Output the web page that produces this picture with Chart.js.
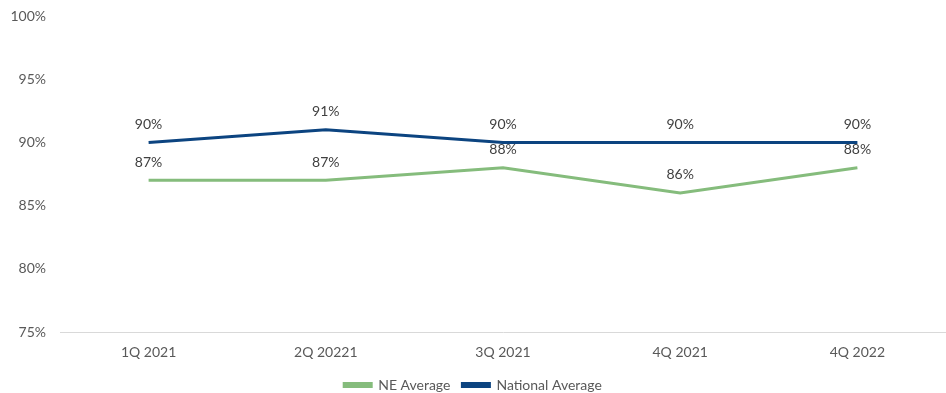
<!DOCTYPE html>
<html>
<head>
<meta charset="utf-8">
<script src="https://cdn.jsdelivr.net/npm/chart.js@4/dist/chart.umd.min.js"></script>
<style>
  html, body { margin: 0; padding: 0; background: #fff; }
  #wrap { width: 946px; height: 393px; }
</style>
</head>
<body>
<div id="wrap"><canvas id="grafico"></canvas></div>
<script>
const quarters = ['1Q 2021', '2Q 20221', '3Q 2021', '4Q 2021', '4Q 2022'];
const neAverage = [87, 87, 88, 86, 88];
const nationalAverage = [90, 91, 90, 90, 90];
const yTicks = [75, 80, 85, 90, 95, 100];

const green = 'rgb(133, 188, 124)';
const navy = 'rgb(12, 68, 128)';
const fuente = 'Lato, "Open Sans", sans-serif';

// value labels over each point
const pointLabels = {
    id: 'pointLabels',
    afterDatasetsDraw(chart) {
        const c = chart.ctx;
        c.save();
        c.font = '14px ' + fuente;
        c.fillStyle = '#404040';
        c.textAlign = 'center';
        c.textBaseline = 'middle';
        chart.data.datasets.forEach((ds, i) => {
            chart.getDatasetMeta(i).data.forEach((pt, j) => {
                c.fillText(ds.data[j] + '%', pt.x, pt.y - 18);
            });
        });
        c.restore();
    }
};

const ctx = document.getElementById('grafico').getContext('2d');
const grafico = new Chart(ctx, {
    type: 'line',
    data: {
        labels: quarters,
        datasets: [{
            label: 'NE Average',
            data: neAverage,
            borderColor: green,
            backgroundColor: green,
            borderWidth: 3,
            pointRadius: 0,
            tension: 0
        }, {
            label: 'National Average',
            data: nationalAverage,
            borderColor: navy,
            backgroundColor: navy,
            borderWidth: 3,
            pointRadius: 0,
            tension: 0
        }]
    },
    options: {
        responsive: true,
        maintainAspectRatio: false,
        animation: false,
        layout: { padding: { top: 16, right: 0, left: 0, bottom: -9 } },
        plugins: {
            legend: {
                position: 'bottom',
                labels: {
                    boxWidth: 27,
                    boxHeight: 3,
                    padding: 12,
                    color: '#595959',
                    font: { family: fuente, size: 14 }
                }
            },
            tooltip: { enabled: false }
        },
        scales: {
            x: {
                offset: true,
                afterFit(scale) { scale.height = 34; },
                grid: { display: false, drawTicks: false },
                border: { display: true, color: '#d9d9d9', width: 1 },
                ticks: {
                    color: '#595959',
                    padding: 12,
                    font: { family: fuente, size: 14 }
                }
            },
            y: {
                min: 75,
                max: 100,
                afterFit(scale) {
                    scale.width = 60;
                    scale.paddingTop = 0;
                    scale.paddingBottom = 0;
                },
                afterBuildTicks(scale) { scale.ticks = yTicks.map(v => ({ value: v })); },
                grid: { display: false, drawTicks: false },
                border: { display: false },
                ticks: {
                    color: '#595959',
                    padding: 14,
                    font: { family: fuente, size: 14 },
                    callback: v => v + '%'
                }
            }
        }
    },
    plugins: [pointLabels]
});
</script>
</body>
</html>
